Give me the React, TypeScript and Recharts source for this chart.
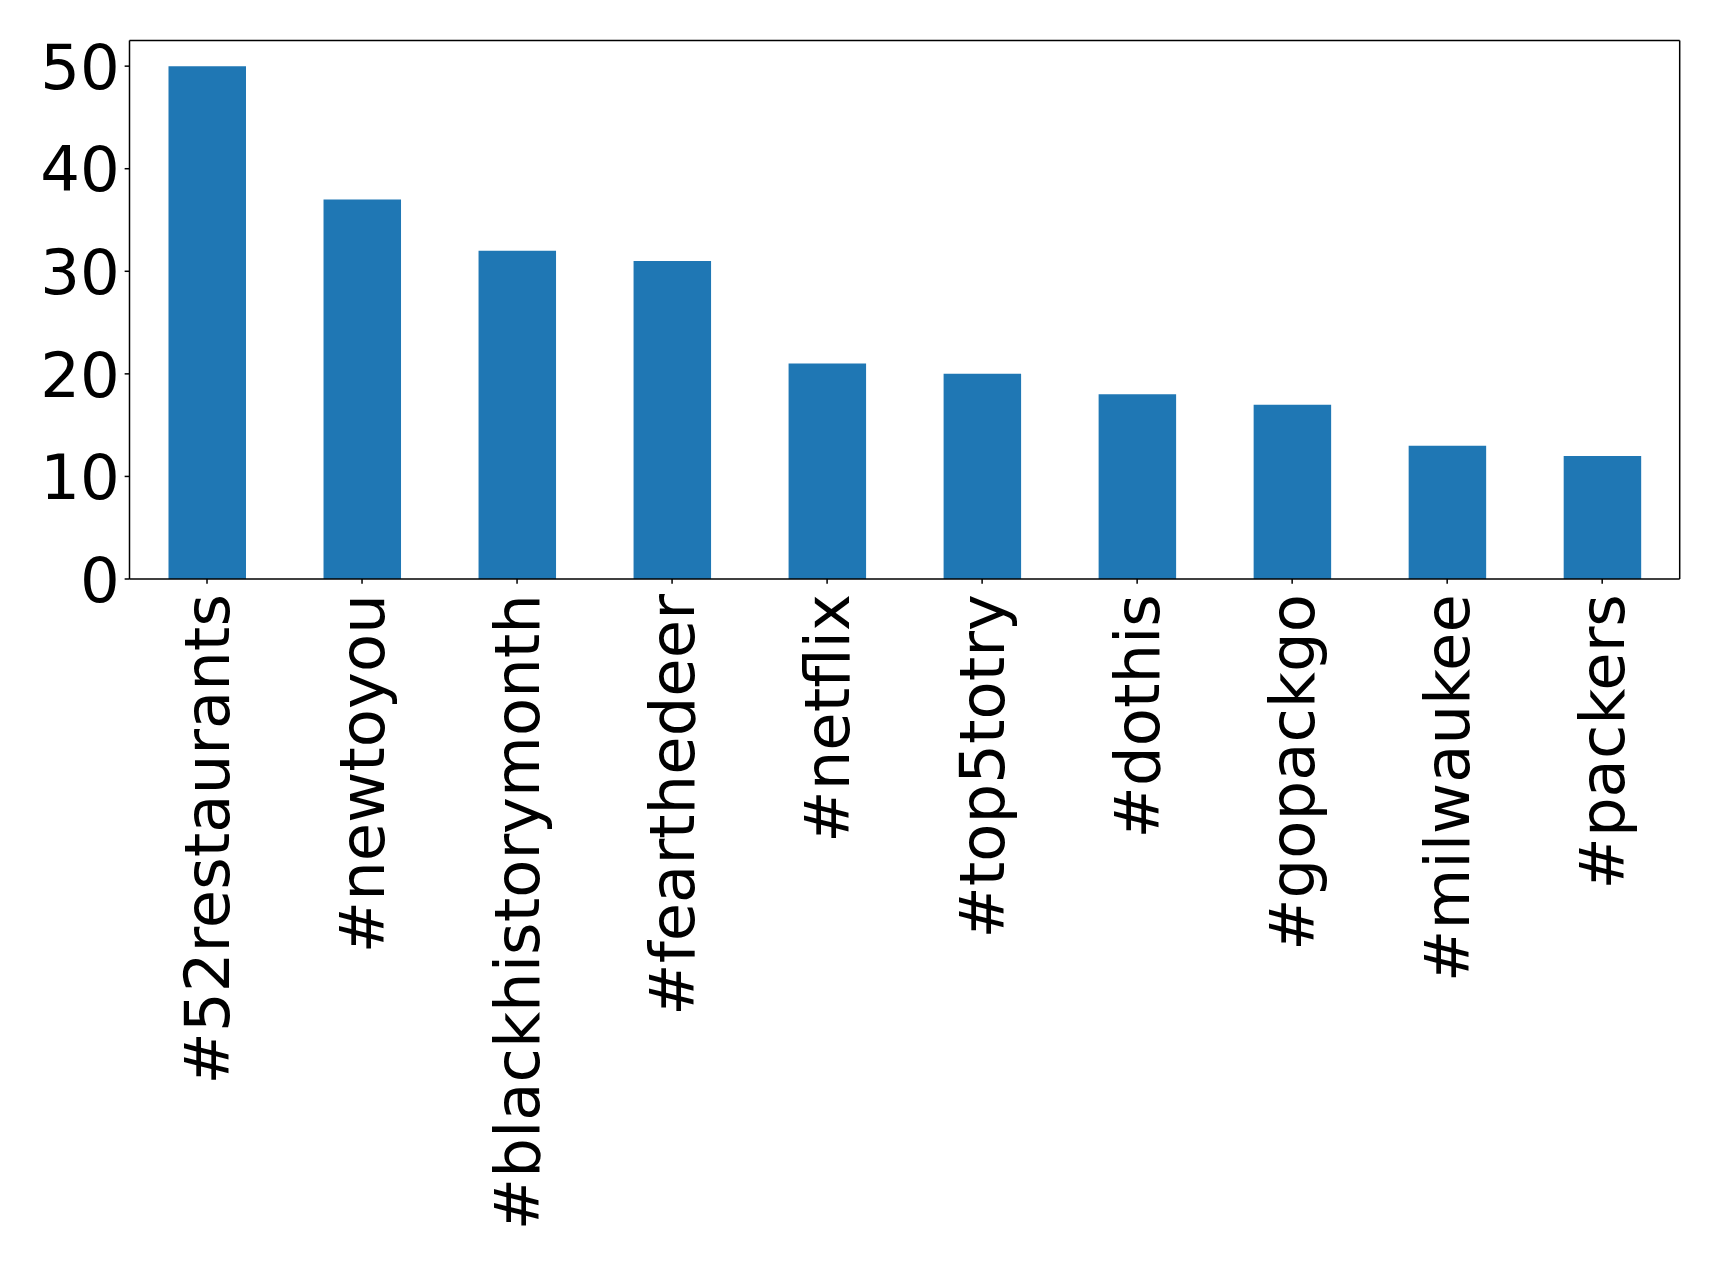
import React from "react";
import { BarChart, Bar, XAxis, YAxis } from "recharts";

const categories = [
  "#52restaurants",
  "#newtoyou",
  "#blackhistorymonth",
  "#fearthedeer",
  "#netflix",
  "#top5totry",
  "#dothis",
  "#gopackgo",
  "#milwaukee",
  "#packers",
];
const counts = [50, 37, 32, 31, 21, 20, 18, 17, 13, 12];
const yTicks = [0, 10, 20, 30, 40, 50];

const data = categories.map((c, i) => ({ tag: c, count: counts[i] }));

const FONT = "'DejaVu Sans', sans-serif";
const FS = 62.5;

const XTick = (props: any) => {
  const { x, y, payload } = props;
  return (
    <text
      x={0}
      y={0}
      transform={`translate(${x},${y}) rotate(-90)`}
      textAnchor="end"
      dy="0.35em"
      fontFamily={FONT}
      fontSize={FS}
      fill="#000"
    >
      {payload.value}
    </text>
  );
};

const YTick = (props: any) => {
  const { x, y, payload } = props;
  return (
    <text
      x={x}
      y={y}
      textAnchor="end"
      dy="0.3645em"
      fontFamily={FONT}
      fontSize={FS}
      fill="#000"
    >
      {payload.value}
    </text>
  );
};

export default function App() {
  const W = 1719;
  const H = 1264;
  const left = 129.5;
  const right = W - 1679.7;
  const top = 40.5;
  const bottom = H - 579;
  const A = 1;
  const axisStyle = { stroke: "#000", strokeWidth: 1.5 };
  return (
    <div style={{ position: "absolute", left: 0, top: 0, background: "#fff" }}>
      <BarChart
        width={W}
        height={H}
        data={data}
        margin={{ top: top - A, right: right - A, left: left - A, bottom: bottom - A }}
        barCategoryGap={0}
      >
        <XAxis
          dataKey="tag"
          height={A}
          interval={0}
          tick={<XTick />}
          tickSize={4.86}
          tickMargin={10.2}
          axisLine={axisStyle}
          tickLine={axisStyle}
        />
        <XAxis
          xAxisId="top"
          dataKey="tag"
          orientation="top"
          height={A}
          tick={false}
          tickLine={false}
          axisLine={axisStyle}
        />
        <YAxis
          width={A}
          domain={[0, 52.5]}
          ticks={yTicks}
          interval={0}
          tick={<YTick />}
          tickSize={4.86}
          tickMargin={4.86}
          axisLine={axisStyle}
          tickLine={axisStyle}
          allowDataOverflow
        />
        <YAxis
          yAxisId="right"
          orientation="right"
          width={A}
          domain={[0, 52.5]}
          tick={false}
          tickLine={false}
          axisLine={axisStyle}
        />
        <Bar dataKey="count" fill="#1f77b4" barSize={77.5} isAnimationActive={false} />
      </BarChart>
    </div>
  );
}
